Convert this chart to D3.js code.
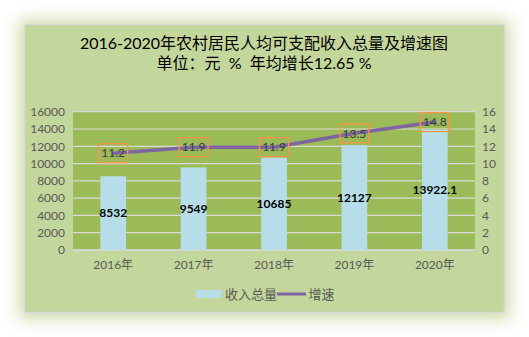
<!DOCTYPE html>
<html><head><meta charset="utf-8">
<script src="https://cdn.jsdelivr.net/npm/d3@7"></script>
<style>
html,body{margin:0;padding:0;background:#fff;}
svg{display:block;}
</style></head>
<body>
<svg id="c" width="529" height="337"></svg>
<script>
const categories = ["2016年","2017年","2018年","2019年","2020年"];
const incomeValues = [8532, 9549, 10685, 12127, 13922.1];
const incomeLabels = ["8532","9549","10685","12127","13922.1"];
const growthValues = [11.2, 11.9, 11.9, 13.5, 14.8];
const leftTicks = [0,2000,4000,6000,8000,10000,12000,14000,16000];
const rightTicks = [0,2,4,6,8,10,12,14,16];
const titleLines = ["2016-2020年农村居民人均可支配收入总量及增速图","单位：元  %  年均增长12.65 %"];
const legendNames = ["收入总量","增速"];

const FONT = "Lato, 'Noto Sans CJK SC', sans-serif";
const svg = d3.select("#c");
const defs = svg.append("defs");
const f = defs.append("filter").attr("id","glow").attr("x","-20%").attr("y","-20%").attr("width","140%").attr("height","140%");
f.append("feGaussianBlur").attr("stdDeviation",8);

const frame = {x:24.5, y:24.5, w:480, h:288};
svg.append("rect").attr("x",frame.x-6).attr("y",frame.y-5).attr("width",frame.w+12).attr("height",frame.h+12)
  .attr("fill","#d0deaf").attr("filter","url(#glow)");
svg.append("rect").attr("x",frame.x).attr("y",frame.y).attr("width",frame.w).attr("height",frame.h)
  .attr("fill","#c3d69b").attr("stroke","#d9d9d9").attr("stroke-width",1.5);

const plot = {x0:73, x1:475, y0:111.7, y1:250};
svg.append("rect").attr("x",plot.x0).attr("y",plot.y0).attr("width",plot.x1-plot.x0).attr("height",plot.y1-plot.y0).attr("fill","#9bbb59");

const x = d3.scaleBand().domain(categories).range([plot.x0, plot.x1]).padding(0);
const yL = d3.scaleLinear().domain([0,16000]).range([plot.y1, plot.y0]);
const yR = d3.scaleLinear().domain([0,16]).range([plot.y1, plot.y0]);

// gridlines
svg.append("g").selectAll("line").data(leftTicks).join("line")
  .attr("x1",plot.x0).attr("x2",plot.x1).attr("y1",d=>yL(d)).attr("y2",d=>yL(d))
  .attr("stroke","#d9d9d9").attr("stroke-width",1.2);

// axes
const axL = svg.append("g").attr("transform",`translate(${plot.x0},0)`)
  .call(d3.axisLeft(yL).tickValues(leftTicks).tickSize(0).tickPadding(8).tickFormat(d3.format("d")));
const axR = svg.append("g").attr("transform",`translate(${plot.x1},0)`)
  .call(d3.axisRight(yR).tickValues(rightTicks).tickSize(0).tickPadding(7).tickFormat(d3.format("d")));
const axB = svg.append("g").attr("transform",`translate(0,${plot.y1})`)
  .call(d3.axisBottom(x).tickSize(0).tickPadding(10));
[axL,axR,axB].forEach(a=>{
  a.select(".domain").remove();
  a.selectAll("text").attr("fill","#595959").style("font-family",FONT).style("font-size","12px");
});
svg.append("line").attr("x1",plot.x0).attr("x2",plot.x1).attr("y1",plot.y1).attr("y2",plot.y1).attr("stroke","#d9d9d9").attr("stroke-width",1.5);

// bars
const bw = x.bandwidth()*0.32;
svg.append("g").selectAll("rect").data(incomeValues).join("rect")
  .attr("x",(d,i)=>x(categories[i])+x.bandwidth()/2-bw/2)
  .attr("width",bw)
  .attr("y",d=>yL(d)).attr("height",d=>plot.y1-yL(d))
  .attr("fill","#b7dee8");

// bar labels
svg.append("g").selectAll("text").data(incomeValues).join("text")
  .attr("x",(d,i)=>x(categories[i])+x.bandwidth()/2)
  .attr("y",d=>(yL(d)+plot.y1)/2)
  .attr("dy","0.35em").attr("text-anchor","middle")
  .style("font-family",FONT).style("font-size","12px").style("font-weight","bold").attr("fill","#000")
  .text((d,i)=>incomeLabels[i]);

// line
const line = d3.line().x((d,i)=>x(categories[i])+x.bandwidth()/2).y(d=>yR(d));
svg.append("path").datum(growthValues).attr("d",line).attr("fill","none")
  .attr("stroke","#8064a2").attr("stroke-width",3.5).attr("stroke-linecap","round");

// line labels with boxes
const lg = svg.append("g").selectAll("g").data(growthValues).join("g")
  .attr("transform",(d,i)=>`translate(${x(categories[i])+x.bandwidth()/2},${yR(d)})`);
lg.append("rect").attr("x",-14.5).attr("y",-9.5).attr("width",29).attr("height",19)
  .attr("fill","none").attr("stroke","#f79646").attr("stroke-width",1.3);
lg.append("text").attr("text-anchor","middle").attr("dy","0.35em")
  .style("font-family",FONT).style("font-size","12px").attr("fill","#3a3a3a")
  .text(d=>d.toFixed(1));

// title
svg.append("g").selectAll("text").data(titleLines).join("text")
  .attr("x",264).attr("y",(d,i)=>49+i*20).attr("text-anchor","middle")
  .style("font-family",FONT).style("font-size","16px").style("white-space","pre").attr("fill","#000")
  .text(d=>d);

// legend
const leg = svg.append("g");
leg.append("rect").attr("x",195.5).attr("y",290).attr("width",26.5).attr("height",8).attr("fill","#b7dee8");
leg.append("text").attr("x",225).attr("y",294).attr("dy","0.35em")
  .style("font-family",FONT).style("font-size","13px").attr("fill","#595959").text(legendNames[0]);
leg.append("line").attr("x1",277).attr("x2",306).attr("y1",294).attr("y2",294)
  .attr("stroke","#8064a2").attr("stroke-width",3);
leg.append("text").attr("x",308.5).attr("y",294).attr("dy","0.35em")
  .style("font-family",FONT).style("font-size","13px").attr("fill","#595959").text(legendNames[1]);
</script>
</body></html>
